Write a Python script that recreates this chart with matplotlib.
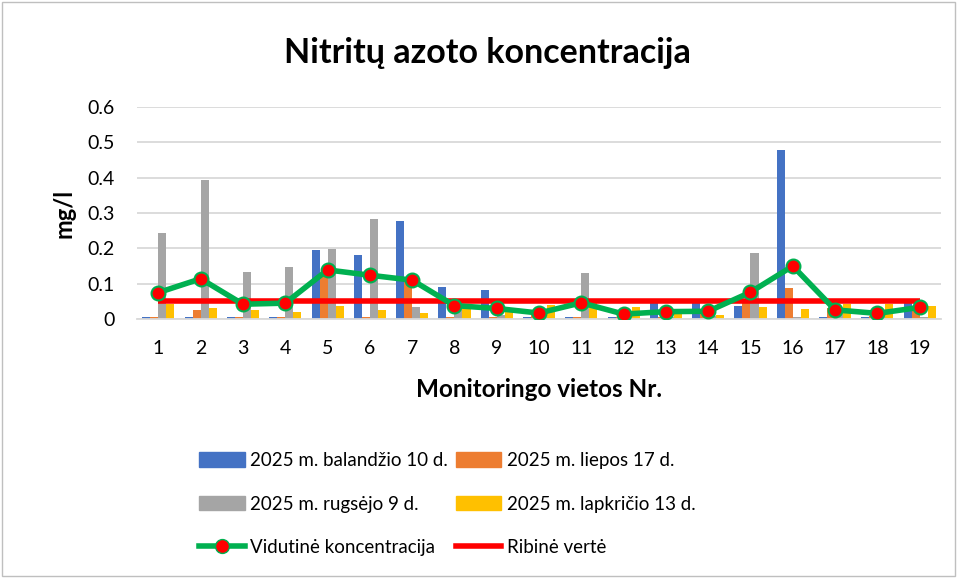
import numpy as np
import matplotlib
matplotlib.use("Agg")
from matplotlib import pyplot as plt
from matplotlib.lines import Line2D
from matplotlib.patches import Patch, Rectangle

plt.rcParams['font.family'] = ['Lato', 'DejaVu Sans']

# Data
sites = [str(i) for i in range(1, 20)]
balandzio = [0.005, 0.005, 0.005, 0.005, 0.195, 0.181, 0.278, 0.091, 0.083, 0.005,
             0.005, 0.005, 0.05, 0.045, 0.036, 0.477, 0.005, 0.005, 0.057]
liepos = [0.005, 0.025, 0.005, 0.005, 0.125, 0.005, 0.11, 0.005, 0.005, 0.012,
          0.005, 0.005, 0.005, 0.02, 0.045, 0.087, 0.03, 0.008, 0.032]
rugsejo = [0.244, 0.392, 0.132, 0.148, 0.197, 0.284, 0.035, 0.03, 0.012, 0.01,
           0.13, 0.01, 0.005, 0.01, 0.187, 0.005, 0.025, 0.008, 0.005]
lapkricio = [0.043, 0.032, 0.025, 0.02, 0.038, 0.027, 0.018, 0.028, 0.021, 0.04,
             0.045, 0.035, 0.025, 0.012, 0.035, 0.029, 0.043, 0.043, 0.038]
vidutine = [0.075, 0.114, 0.042, 0.045, 0.139, 0.124, 0.110, 0.038, 0.030, 0.017,
            0.046, 0.014, 0.021, 0.022, 0.076, 0.150, 0.026, 0.016, 0.033]
ribine = [0.05] * 19

series = [
    ('2025 m. balandžio 10 d.', balandzio, '#4472C4'),
    ('2025 m. liepos 17 d.', liepos, '#ED7D31'),
    ('2025 m. rugsėjo 9 d.', rugsejo, '#A5A5A5'),
    ('2025 m. lapkričio 13 d.', lapkricio, '#FFC000'),
]

fig = plt.figure(figsize=(9.6, 5.78), dpi=100)
ax = fig.add_axes([0.143, 0.448, 0.837, 0.367])

x = np.arange(len(sites))
w = 0.19
for i, (label, vals, color) in enumerate(series):
    ax.bar(x + (i - 1.5) * w, vals, width=w, color=color, zorder=2)

ax.plot(x, ribine, color='#FF0000', lw=4, zorder=3, solid_capstyle='butt')
ax.plot(x, vidutine, color='#00B050', lw=4, marker='o', markersize=10,
        markerfacecolor='#FF0000', markeredgecolor='#00B050', markeredgewidth=1.5,
        zorder=4)

ax.set_xlim(-0.5, len(sites) - 0.5)
ax.set_ylim(0, 0.6)
ax.set_yticks(np.arange(0, 0.61, 0.1))
ax.set_yticklabels(['0', '0.1', '0.2', '0.3', '0.4', '0.5', '0.6'])
ax.set_xticks(x)
ax.set_xticklabels(sites)
ax.tick_params(length=0, labelsize=14, colors='black')
ax.tick_params(axis='x', pad=15)
ax.tick_params(axis='y', pad=16)
ax.grid(axis='y', color='#D9D9D9', lw=1.3, zorder=0)
ax.set_axisbelow(True)
for s in ['top', 'right', 'left']:
    ax.spines[s].set_visible(False)
ax.spines['bottom'].set_color('#D9D9D9')
ax.spines['bottom'].set_linewidth(1.3)

ax.set_xlabel('Monitoringo vietos Nr.', fontsize=17.5, fontweight='bold', labelpad=15)
ax.set_ylabel('mg/l', fontsize=17, fontweight='bold', labelpad=9)
fig.text(0.508, 0.908, 'Nitritų azoto koncentracija', ha='center', va='center',
         fontsize=24.5, fontweight='bold')

handles = [
    Patch(color='#4472C4'), Patch(color='#A5A5A5'),
    Line2D([], [], color='#00B050', lw=4, marker='o', markersize=10,
           markerfacecolor='#FF0000', markeredgecolor='#00B050'),
    Patch(color='#ED7D31'), Patch(color='#FFC000'),
    Line2D([], [], color='#FF0000', lw=4),
]
labels = ['2025 m. balandžio 10 d.', '2025 m. rugsėjo 9 d.', 'Vidutinė koncentracija',
          '2025 m. liepos 17 d.', '2025 m. lapkričio 13 d.', 'Ribinė vertė']
fig.legend(handles, labels, ncol=2, loc='upper left', bbox_to_anchor=(0.207, 0.218),
           frameon=False, fontsize=13.5, handlelength=2.45, handleheight=0.8,
           handletextpad=0.3, columnspacing=0.4, labelspacing=1.42,
           borderaxespad=0, borderpad=0)

fig.patches.append(Rectangle((0.002, 0.004), 0.993, 0.992, transform=fig.transFigure,
                             fill=False, edgecolor='#BFBFBF', lw=1))

fig.savefig('out.png', dpi=100)
